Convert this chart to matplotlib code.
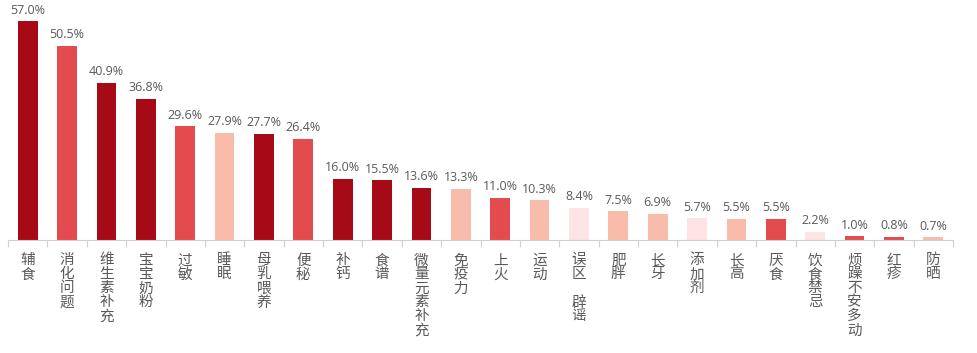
import numpy as np
import matplotlib.pyplot as plt

plt.rcParams['font.family'] = ['Noto Sans CJK SC', 'DejaVu Sans']

# data
categories = ['辅食', '消化问题', '维生素补充', '宝宝奶粉', '过敏', '睡眠', '母乳喂养', '便秘',
              '补钙', '食谱', '微量元素补充', '免疫力', '上火', '运动', '误区 辟谣', '肥胖',
              '长牙', '添加剂', '长高', '厌食', '饮食禁忌', '烦躁不安多动', '红疹', '防晒']
values = [57.0, 50.5, 40.9, 36.8, 29.6, 27.9, 27.7, 26.4,
          16.0, 15.5, 13.6, 13.3, 11.0, 10.3, 8.4, 7.5,
          6.9, 5.7, 5.5, 5.5, 2.2, 1.0, 0.8, 0.7]
shade = ['d', 'r', 'd', 'd', 'r', 's', 'd', 'r',
         'd', 'd', 'd', 's', 'r', 's', 'p', 's',
         's', 'p', 's', 'r', 'p', 'r', 'r', 's']

palette = {'d': '#A50A16', 'r': '#E34B4F', 's': '#F9BBAA', 'p': '#FDE3E3'}
colors = [palette[k] for k in shade]

fig = plt.figure(figsize=(9.77, 3.53), dpi=100)
ax = fig.add_axes([8 / 977, 113 / 353, 945 / 977, 240 / 353])

x = np.arange(len(categories))
ax.bar(x, values, width=0.5, color=colors)

for xi, v in zip(x, values):
    ax.text(xi, v + 1.2, f'{v:.1f}%', ha='center', va='bottom',
            fontsize=9, color='#595959', family='Open Sans')

ax.set_xlim(-0.5, len(categories) - 0.5)
ax.set_ylim(0, 62.5)

for s in ['top', 'right', 'left']:
    ax.spines[s].set_visible(False)
ax.spines['bottom'].set_color('#D0D0D0')
ax.set_yticks([])

ax.set_xticks(np.arange(-0.5, len(categories)), minor=False)
ax.set_xticklabels([])
ax.tick_params(axis='x', length=5, color='#D0D0D0')

for xi, c in zip(x, categories):
    label = '\n'.join('' if ch == ' ' else ch for ch in c)
    ax.text(xi, -3.5, label, ha='center', va='top', fontsize=10.5,
            color='#595959', linespacing=1.0, clip_on=False)

fig.savefig('out.png', dpi=100)
